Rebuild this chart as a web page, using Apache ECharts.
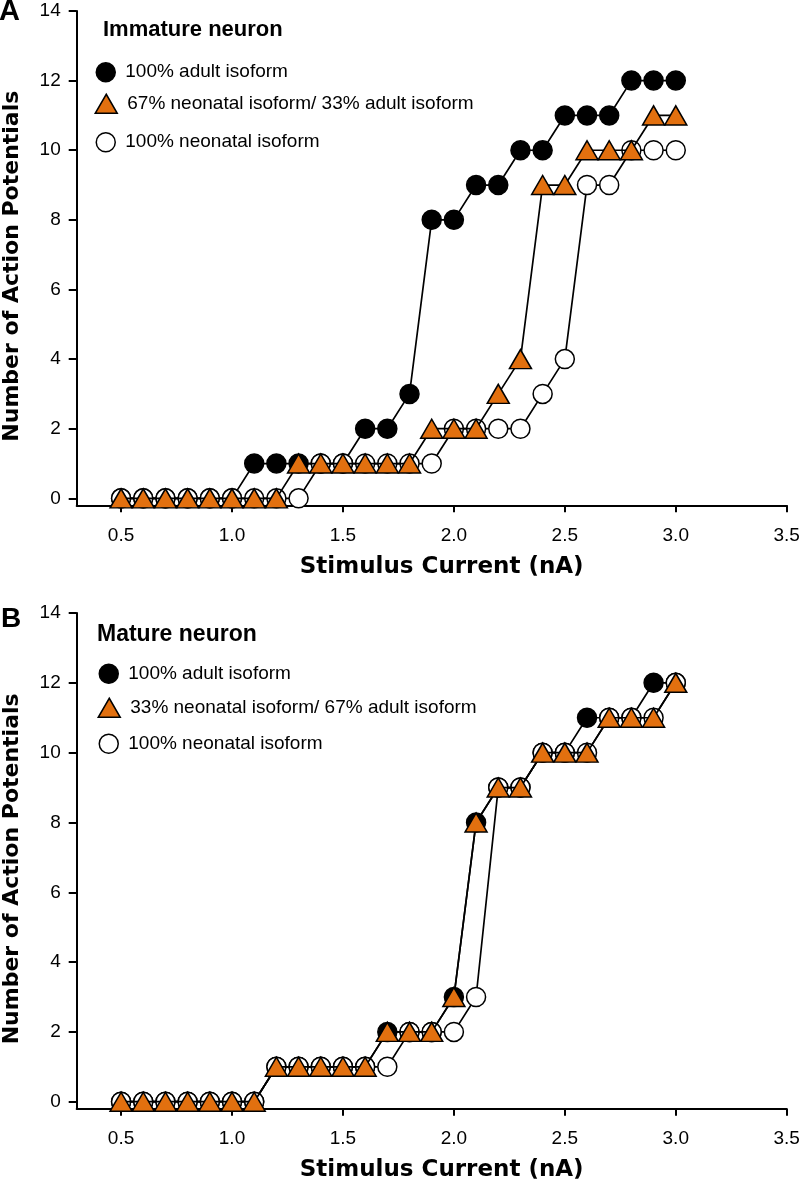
<!DOCTYPE html>
<html><head><meta charset="utf-8">
<script src="https://cdn.jsdelivr.net/npm/echarts@6/dist/echarts.min.js"></script>
<style>html,body{margin:0;padding:0;background:#fff}#c{width:800px;height:1189px}</style>
</head><body><div id="c"></div>
<script>
// ---- data ----
const currentsNA = [0.5,0.6,0.7,0.8,0.9,1.0,1.1,1.2,1.3,1.4,1.5,1.6,1.7,1.8,1.9,2.0,2.1,2.2,2.3,2.4,2.5,2.6,2.7,2.8,2.9,3.0];
// Panel A: immature neuron
const immatureAdult    = [0,0,0,0,0,0,1,1,1,1,1,2,2,3,8,8,9,9,10,10,11,11,11,12,12,12];
const immatureMixed    = [0,0,0,0,0,0,0,0,1,1,1,1,1,1,2,2,2,3,4,9,9,10,10,10,11,11];
const immatureNeonatal = [0,0,0,0,0,0,0,0,0,1,1,1,1,1,1,2,2,2,2,3,4,9,9,10,10,10];
// Panel B: mature neuron
const matureAdult      = [0,0,0,0,0,0,0,1,1,1,1,1,2,2,2,3,8,9,9,10,10,11,11,11,12,12];
const matureMixed      = [0,0,0,0,0,0,0,1,1,1,1,1,2,2,2,3,8,9,9,10,10,10,11,11,11,12];
const matureNeonatal   = [0,0,0,0,0,0,0,1,1,1,1,1,1,2,2,2,3,9,9,10,10,10,11,11,11,12];
const xTickValues = [0.5,1.0,1.5,2.0,2.5,3.0,3.5];
const yTickValues = [0,2,4,6,8,10,12,14];
const nameAdult = '100% adult isoform';
const nameNeonatal = '100% neonatal isoform';
const nameMixedA = '67% neonatal isoform/ 33% adult isoform';
const nameMixedB = '33% neonatal isoform/ 67% adult isoform';
const panelTitles = ['Immature neuron', 'Mature neuron'];
const panelLetters = ['A', 'B'];
const xTitle = 'Stimulus Current (nA)';
const yTitle = 'Number of Action Potentials';

// ---- styles ----
const ORANGE = '#E2700F';
const FONT = 'Liberation Sans, Arial, sans-serif';
const WIDE = 'DejaVu Sans, sans-serif';

const chart = echarts.init(document.getElementById('c'), null, {renderer: 'canvas'});

function pairs(arr) { return currentsNA.map((x, i) => [x, arr[i]]); }

function mkSeries(name, arr, gi, kind) {
  const isTri = kind === 'tri';
  const fill = kind === 'black' ? '#000' : (kind === 'white' ? '#fff' : ORANGE);
  return {
    type: 'line', name: name, xAxisIndex: gi, yAxisIndex: gi,
    data: pairs(arr),
    symbol: isTri ? 'triangle' : 'circle',
    symbolSize: isTri ? [22, 19] : 19,
    showAllSymbol: true,
    lineStyle: {color: '#000', width: 1.7},
    itemStyle: {color: fill, borderColor: '#000', borderWidth: 1.5, opacity: 1},
    emphasis: {disabled: true},
    animation: false,
    z: kind === 'black' ? 2 : (kind === 'white' ? 3 : 4)
  };
}

function xAxisCfg(gi) {
  return {
    type: 'value', gridIndex: gi, min: 0.3, max: 3.5,
    splitLine: {show: false},
    axisLine: {show: true, onZero: false, lineStyle: {color: '#000', width: 2}},
    axisTick: {show: true, length: 7, lineStyle: {color: '#000', width: 2}, customValues: xTickValues},
    axisLabel: {customValues: xTickValues, formatter: v => v.toFixed(1), fontSize: 19, fontFamily: FONT, color: '#000', margin: 21},
    name: xTitle, nameLocation: 'middle', nameGap: 50,
    nameTextStyle: {fontSize: 23, fontWeight: 'bold', fontFamily: WIDE, color: '#000', padding: [0, 0, 0, 20]}
  };
}
function yAxisCfg(gi) {
  return {
    type: 'value', gridIndex: gi, min: -0.2, max: 14,
    splitLine: {show: false},
    axisLine: {show: true, onZero: false, lineStyle: {color: '#000', width: 2}},
    axisTick: {show: true, length: 8, lineStyle: {color: '#000', width: 2}, customValues: yTickValues},
    axisLabel: {customValues: yTickValues, fontSize: 19, fontFamily: FONT, color: '#000', margin: 16},
    name: yTitle, nameLocation: 'middle', nameGap: 53,
    nameTextStyle: {fontSize: 22, fontWeight: 'bold', fontFamily: WIDE, color: '#000', padding: [0, 16, 0, 0]}
  };
}

function legendItem(name, icon, left, top, w, h) {
  return {
    left: left, top: top, orient: 'vertical', padding: 0, selectedMode: false,
    itemWidth: w, itemHeight: h, itemGap: 0,
    data: [{name: name, icon: icon}],
    itemStyle: {borderColor: '#000', borderWidth: 1.5},
    textStyle: {fontSize: 19, fontFamily: FONT, color: '#000', padding: [0, 0, 0, 5]}
  };
}

const option = {
  backgroundColor: '#fff',
  animation: false,
  title: [
    {text: panelLetters[0], left: -1, top: -3, padding: 0, textStyle: {fontSize: 29, fontWeight: 'bold', fontFamily: FONT, color: '#000'}},
    {text: panelTitles[0], left: 103, top: 19, padding: 0, textStyle: {fontSize: 22, fontWeight: 'bold', fontFamily: FONT, color: '#000'}},
    {text: panelLetters[1], left: 1, top: 605, padding: 0, textStyle: {fontSize: 28, fontWeight: 'bold', fontFamily: FONT, color: '#000'}},
    {text: panelTitles[1], left: 97, top: 623, padding: 0, textStyle: {fontSize: 23, fontWeight: 'bold', fontFamily: FONT, color: '#000'}}
  ],
  legend: [
    legendItem(nameAdult, 'circle', 95.5, 62, 19, 19),
    legendItem(nameMixedA, 'triangle', 94.5, 93.5, 22, 19),
    legendItem(nameNeonatal, 'circle', 95.5, 132, 19, 19),
    legendItem(nameAdult, 'circle', 98.5, 663.5, 19, 19),
    legendItem(nameMixedB, 'triangle', 97.5, 697.5, 22, 19),
    legendItem(nameNeonatal, 'circle', 98.5, 733.5, 19, 19)
  ],
  grid: [
    {left: 76.7, width: 710, top: 11, height: 494.3, containLabel: false, outerBoundsMode: 'none'},
    {left: 76.7, width: 710, top: 613, height: 495.7, containLabel: false, outerBoundsMode: 'none'}
  ],
  xAxis: [xAxisCfg(0), xAxisCfg(1)],
  yAxis: [yAxisCfg(0), yAxisCfg(1)],
  series: [
    mkSeries(nameAdult, immatureAdult, 0, 'black'),
    mkSeries(nameNeonatal, immatureNeonatal, 0, 'white'),
    mkSeries(nameMixedA, immatureMixed, 0, 'tri'),
    mkSeries(nameAdult, matureAdult, 1, 'black'),
    mkSeries(nameNeonatal, matureNeonatal, 1, 'white'),
    mkSeries(nameMixedB, matureMixed, 1, 'tri')
  ]
};
chart.setOption(option);
</script>
</body></html>
